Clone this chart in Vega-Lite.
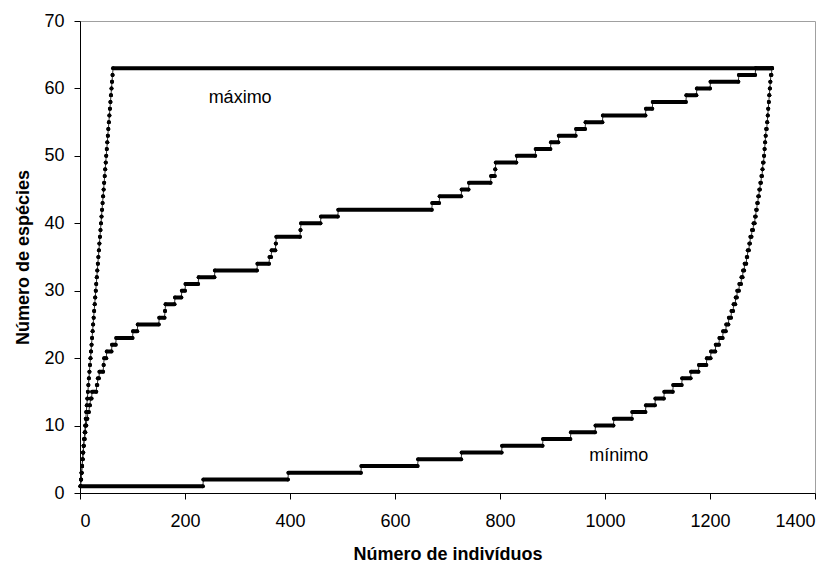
{
"$schema": "https://vega.github.io/schema/vega-lite/v6.json",
"width": 735, "height": 472,
"autosize": {"type": "none"},
"padding": {"left": 80, "top": 21, "right": 24, "bottom": 71},
"background": "white",
"config": {
  "view": {"stroke": "#a0a0a0", "strokeWidth": 1},
  "font": "Liberation Sans",
  "axis": {"grid": false, "domainColor": "black", "tickColor": "black", "labelColor": "black", "titleColor": "black", "labelFont": "Liberation Sans", "titleFont": "Liberation Sans", "labelFontSize": 18, "titleFontSize": 18, "titleFontWeight": "bold", "tickSize": 6, "format": "d"}
},
"datasets": {
"steps": [
{"series":"max","species":1,"first":1,"last":1},{"series":"max","species":2,"first":2,"last":2},{"series":"max","species":3,"first":3,"last":3},{"series":"max","species":4,"first":4,"last":4},{"series":"max","species":5,"first":5,"last":5},{"series":"max","species":6,"first":6,"last":6},{"series":"max","species":7,"first":7,"last":7},{"series":"max","species":8,"first":8,"last":8},{"series":"max","species":9,"first":9,"last":9},{"series":"max","species":10,"first":10,"last":10},
{"series":"max","species":11,"first":11,"last":11},{"series":"max","species":12,"first":12,"last":12},{"series":"max","species":13,"first":13,"last":13},{"series":"max","species":14,"first":14,"last":14},{"series":"max","species":15,"first":15,"last":15},{"series":"max","species":16,"first":16,"last":16},{"series":"max","species":17,"first":17,"last":17},{"series":"max","species":18,"first":18,"last":18},{"series":"max","species":19,"first":19,"last":19},{"series":"max","species":20,"first":20,"last":20},
{"series":"max","species":21,"first":21,"last":21},{"series":"max","species":22,"first":22,"last":22},{"series":"max","species":23,"first":23,"last":23},{"series":"max","species":24,"first":24,"last":24},{"series":"max","species":25,"first":25,"last":25},{"series":"max","species":26,"first":26,"last":26},{"series":"max","species":27,"first":27,"last":27},{"series":"max","species":28,"first":28,"last":28},{"series":"max","species":29,"first":29,"last":29},{"series":"max","species":30,"first":30,"last":30},
{"series":"max","species":31,"first":31,"last":31},{"series":"max","species":32,"first":32,"last":32},{"series":"max","species":33,"first":33,"last":33},{"series":"max","species":34,"first":34,"last":34},{"series":"max","species":35,"first":35,"last":35},{"series":"max","species":36,"first":36,"last":36},{"series":"max","species":37,"first":37,"last":37},{"series":"max","species":38,"first":38,"last":38},{"series":"max","species":39,"first":39,"last":39},{"series":"max","species":40,"first":40,"last":40},
{"series":"max","species":41,"first":41,"last":41},{"series":"max","species":42,"first":42,"last":42},{"series":"max","species":43,"first":43,"last":43},{"series":"max","species":44,"first":44,"last":44},{"series":"max","species":45,"first":45,"last":45},{"series":"max","species":46,"first":46,"last":46},{"series":"max","species":47,"first":47,"last":47},{"series":"max","species":48,"first":48,"last":48},{"series":"max","species":49,"first":49,"last":49},{"series":"max","species":50,"first":50,"last":50},
{"series":"max","species":51,"first":51,"last":51},{"series":"max","species":52,"first":52,"last":52},{"series":"max","species":53,"first":53,"last":53},{"series":"max","species":54,"first":54,"last":54},{"series":"max","species":55,"first":55,"last":55},{"series":"max","species":56,"first":56,"last":56},{"series":"max","species":57,"first":57,"last":57},{"series":"max","species":58,"first":58,"last":58},{"series":"max","species":59,"first":59,"last":59},{"series":"max","species":60,"first":60,"last":60},
{"series":"max","species":61,"first":61,"last":61},{"series":"max","species":62,"first":62,"last":62},{"series":"max","species":63,"first":63,"last":1318},
{"series":"obs","species":1,"first":1,"last":1},{"series":"obs","species":2,"first":2,"last":2},{"series":"obs","species":3,"first":3,"last":3},{"series":"obs","species":4,"first":4,"last":4},{"series":"obs","species":5,"first":5,"last":5},{"series":"obs","species":6,"first":6,"last":6},{"series":"obs","species":7,"first":7,"last":7},{"series":"obs","species":8,"first":8,"last":9},{"series":"obs","species":9,"first":10,"last":10},{"series":"obs","species":10,"first":11,"last":12},
{"series":"obs","species":11,"first":13,"last":14},{"series":"obs","species":12,"first":15,"last":17},{"series":"obs","species":13,"first":18,"last":19},{"series":"obs","species":14,"first":20,"last":22},{"series":"obs","species":15,"first":23,"last":31},{"series":"obs","species":16,"first":32,"last":33},{"series":"obs","species":17,"first":34,"last":36},{"series":"obs","species":18,"first":37,"last":44},{"series":"obs","species":19,"first":45,"last":45},{"series":"obs","species":20,"first":46,"last":50},
{"series":"obs","species":21,"first":51,"last":60},{"series":"obs","species":22,"first":61,"last":68},{"series":"obs","species":23,"first":69,"last":100},{"series":"obs","species":24,"first":101,"last":109},{"series":"obs","species":25,"first":110,"last":150},{"series":"obs","species":26,"first":151,"last":161},{"series":"obs","species":27,"first":162,"last":162},{"series":"obs","species":28,"first":163,"last":180},{"series":"obs","species":29,"first":181,"last":193},{"series":"obs","species":30,"first":194,"last":200},
{"series":"obs","species":31,"first":201,"last":225},{"series":"obs","species":32,"first":226,"last":256},{"series":"obs","species":33,"first":257,"last":337},{"series":"obs","species":34,"first":338,"last":360},{"series":"obs","species":35,"first":361,"last":364},{"series":"obs","species":36,"first":365,"last":372},{"series":"obs","species":37,"first":373,"last":373},{"series":"obs","species":38,"first":374,"last":419},{"series":"obs","species":39,"first":420,"last":420},{"series":"obs","species":40,"first":421,"last":458},
{"series":"obs","species":41,"first":459,"last":491},{"series":"obs","species":42,"first":492,"last":670},{"series":"obs","species":43,"first":671,"last":684},{"series":"obs","species":44,"first":685,"last":726},{"series":"obs","species":45,"first":727,"last":740},{"series":"obs","species":46,"first":741,"last":782},{"series":"obs","species":47,"first":783,"last":790},{"series":"obs","species":48,"first":791,"last":791},{"series":"obs","species":49,"first":792,"last":831},{"series":"obs","species":50,"first":832,"last":867},
{"series":"obs","species":51,"first":868,"last":896},{"series":"obs","species":52,"first":897,"last":911},{"series":"obs","species":53,"first":912,"last":944},{"series":"obs","species":54,"first":945,"last":962},{"series":"obs","species":55,"first":963,"last":995},{"series":"obs","species":56,"first":996,"last":1077},{"series":"obs","species":57,"first":1078,"last":1090},{"series":"obs","species":58,"first":1091,"last":1154},{"series":"obs","species":59,"first":1155,"last":1174},{"series":"obs","species":60,"first":1175,"last":1200},
{"series":"obs","species":61,"first":1201,"last":1254},{"series":"obs","species":62,"first":1255,"last":1286},{"series":"obs","species":63,"first":1287,"last":1318},
{"series":"min","species":1,"first":1,"last":234},{"series":"min","species":2,"first":235,"last":396},{"series":"min","species":3,"first":397,"last":535},{"series":"min","species":4,"first":536,"last":643},{"series":"min","species":5,"first":644,"last":726},{"series":"min","species":6,"first":727,"last":803},{"series":"min","species":7,"first":804,"last":881},{"series":"min","species":8,"first":882,"last":934},{"series":"min","species":9,"first":935,"last":981},{"series":"min","species":10,"first":982,"last":1016},
{"series":"min","species":11,"first":1017,"last":1051},{"series":"min","species":12,"first":1052,"last":1077},{"series":"min","species":13,"first":1078,"last":1095},{"series":"min","species":14,"first":1096,"last":1112},{"series":"min","species":15,"first":1113,"last":1129},{"series":"min","species":16,"first":1130,"last":1146},{"series":"min","species":17,"first":1147,"last":1163},{"series":"min","species":18,"first":1164,"last":1178},{"series":"min","species":19,"first":1179,"last":1193},{"series":"min","species":20,"first":1194,"last":1201},
{"series":"min","species":21,"first":1202,"last":1210},{"series":"min","species":22,"first":1211,"last":1217},{"series":"min","species":23,"first":1218,"last":1224},{"series":"min","species":24,"first":1225,"last":1230},{"series":"min","species":25,"first":1231,"last":1235},{"series":"min","species":26,"first":1236,"last":1240},{"series":"min","species":27,"first":1241,"last":1244},{"series":"min","species":28,"first":1245,"last":1248},{"series":"min","species":29,"first":1249,"last":1251},{"series":"min","species":30,"first":1252,"last":1255},
{"series":"min","species":31,"first":1256,"last":1259},{"series":"min","species":32,"first":1260,"last":1262},{"series":"min","species":33,"first":1263,"last":1265},{"series":"min","species":34,"first":1266,"last":1269},{"series":"min","species":35,"first":1270,"last":1271},{"series":"min","species":36,"first":1272,"last":1274},{"series":"min","species":37,"first":1275,"last":1276},{"series":"min","species":38,"first":1277,"last":1279},{"series":"min","species":39,"first":1280,"last":1282},{"series":"min","species":40,"first":1283,"last":1285},
{"series":"min","species":41,"first":1286,"last":1287},{"series":"min","species":42,"first":1288,"last":1289},{"series":"min","species":43,"first":1290,"last":1291},{"series":"min","species":44,"first":1292,"last":1293},{"series":"min","species":45,"first":1294,"last":1295},{"series":"min","species":46,"first":1296,"last":1297},{"series":"min","species":47,"first":1298,"last":1299},{"series":"min","species":48,"first":1300,"last":1300},{"series":"min","species":49,"first":1301,"last":1302},{"series":"min","species":50,"first":1303,"last":1303},
{"series":"min","species":51,"first":1304,"last":1304},{"series":"min","species":52,"first":1305,"last":1305},{"series":"min","species":53,"first":1306,"last":1306},{"series":"min","species":54,"first":1307,"last":1308},{"series":"min","species":55,"first":1309,"last":1309},{"series":"min","species":56,"first":1310,"last":1310},{"series":"min","species":57,"first":1311,"last":1311},{"series":"min","species":58,"first":1312,"last":1312},{"series":"min","species":59,"first":1313,"last":1313},{"series":"min","species":60,"first":1314,"last":1314},
{"series":"min","species":61,"first":1315,"last":1315},{"series":"min","species":62,"first":1316,"last":1317},{"series":"min","species":63,"first":1318,"last":1318}
],
"notes": [
{"label":"máximo","x":305,"y":58.6},
{"label":"mínimo","x":1026,"y":5.5}
]
},
"layer": [
{
  "data": {"name": "steps"},
  "transform": [{"fold": ["first", "last"], "as": ["end", "ind"]}],
  "mark": {"type": "line", "color": "#333333", "strokeWidth": 1},
  "encoding": {
    "x": {"field": "ind", "type": "quantitative", "title": "Número de indivíduos", "scale": {"domain": [0, 1400], "nice": false}, "axis": {"values": [0,200,400,600,800,1000,1200,1400], "format": "d", "labelPadding": 13, "titleBaseline": "alphabetic", "titleY": 66}},
    "y": {"field": "species", "type": "quantitative", "title": "Número de espécies", "scale": {"domain": [0, 70], "nice": false}, "axis": {"values": [0,10,20,30,40,50,60,70], "format": "d", "labelPadding": 10, "titleBaseline": "alphabetic", "titleX": -52}},
    "detail": {"field": "series"}
  }
},
{
  "data": {"name": "steps"},
  "mark": {"type": "rule", "color": "black", "strokeWidth": 4, "strokeCap": "round"},
  "encoding": {
    "x": {"field": "first", "type": "quantitative", "title": "Número de indivíduos"},
    "x2": {"field": "last"},
    "y": {"field": "species", "type": "quantitative", "title": "Número de espécies"}
  }
},
{
  "data": {"name": "steps"},
  "transform": [{"fold": ["first", "last"], "as": ["end", "ind"]}],
  "mark": {"type": "point", "filled": true, "color": "black", "size": 14, "opacity": 1},
  "encoding": {
    "x": {"field": "ind", "type": "quantitative", "title": "Número de indivíduos"},
    "y": {"field": "species", "type": "quantitative", "title": "Número de espécies"}
  }
},
{
  "data": {"name": "notes"},
  "mark": {"type": "text", "font": "Liberation Sans", "fontSize": 18, "color": "black", "align": "center", "baseline": "middle"},
  "encoding": {
    "x": {"field": "x", "type": "quantitative", "title": "Número de indivíduos"},
    "y": {"field": "y", "type": "quantitative", "title": "Número de espécies"},
    "text": {"field": "label"}
  }
}
]
}
